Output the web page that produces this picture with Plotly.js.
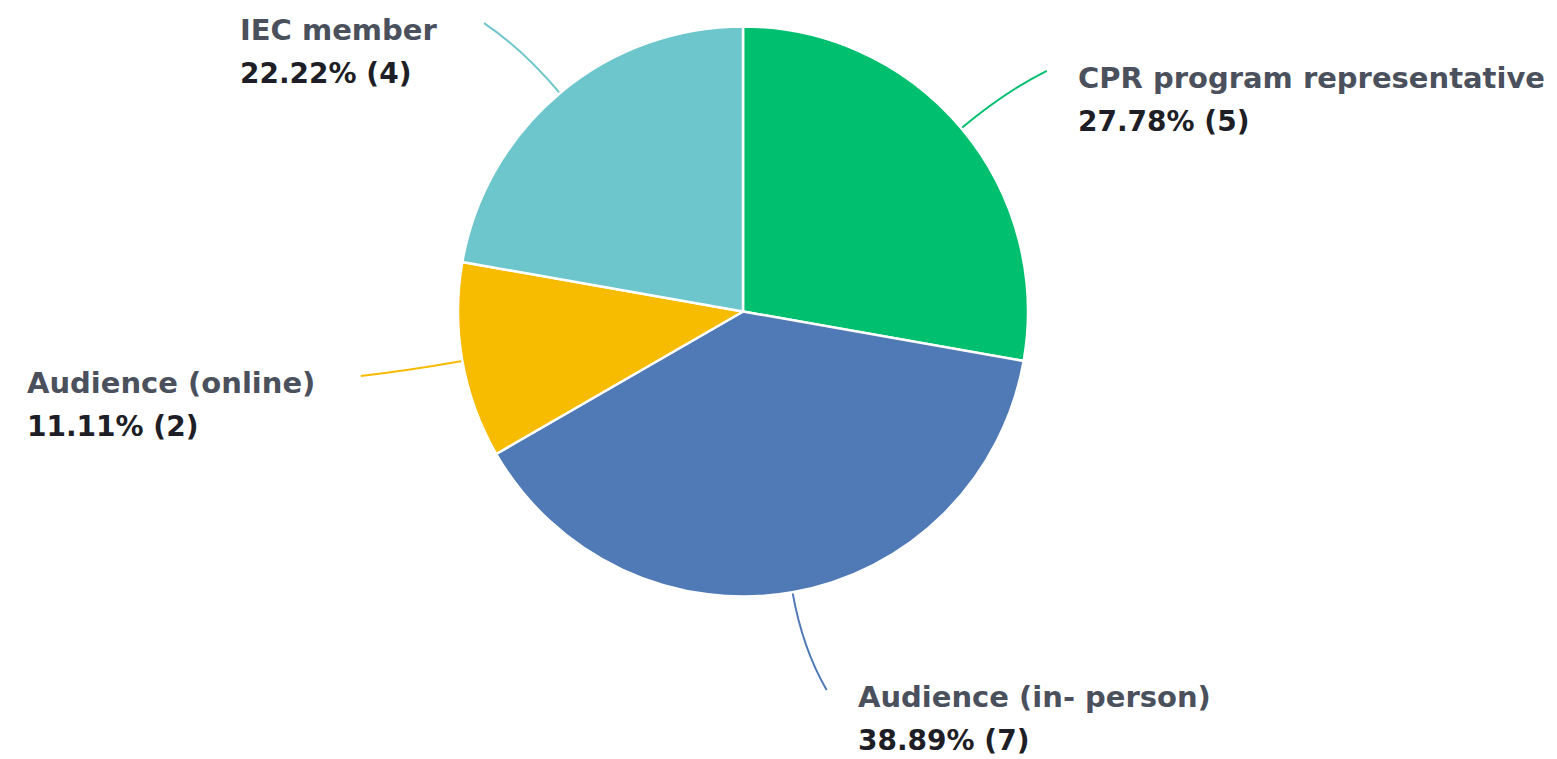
<!DOCTYPE html>
<html>
<head>
<meta charset="utf-8">
<script src="https://cdn.plot.ly/plotly-3.0.1.min.js"></script>
<style>
  html, body { margin: 0; padding: 0; background: #ffffff; }
  #chart { width: 1557px; height: 759px; }
</style>
</head>
<body>
<div id="chart"></div>
<script>
// ---- data ----
const categories = ["CPR program representative", "Audience (in- person)", "Audience (online)", "IEC member"];
const counts = [5, 7, 2, 4];
const percents = ["27.78%", "38.89%", "11.11%", "22.22%"];
const colors = ["#00BF6F", "#507AB6", "#F7BB00", "#6CC6CB"];

// ---- layout geometry (pixels) ----
const W = 1557, H = 759;
const CX = 743, CY = 311.5, R = 285;

const px = x => x / W;
const py = y => 1 - y / H;

const total = counts.reduce((a, b) => a + b, 0);
const shapes = [];
const annotations = [];
let cum = 0;
counts.forEach((v, i) => {
  const midDeg = (cum + v / 2) / total * 360;
  cum += v;
  const m = midDeg * Math.PI / 180;
  const s = Math.sin(m), c = Math.cos(m);
  // bend end toward horizontal
  let delta = 2.5 * Math.abs(c);
  let endDeg;
  if (s >= 0) endDeg = midDeg < 90 ? midDeg + delta : midDeg - delta;
  else endDeg = midDeg < 270 ? midDeg + delta : midDeg - delta;
  const e = endDeg * Math.PI / 180;
  const Sx = CX + R * s, Sy = CY - R * c;
  const Qx = CX + 1.2 * R * s, Qy = CY - 1.2 * R * c;
  const Ex = CX + 1.36 * R * Math.sin(e), Ey = CY - 1.36 * R * Math.cos(e);
  shapes.push({
    type: "path", xref: "paper", yref: "paper",
    path: `M ${px(Sx)} ${py(Sy)} Q ${px(Qx)} ${py(Qy)} ${px(Ex)} ${py(Ey)}`,
    line: { color: colors[i], width: 2 },
    layer: "below"
  });
  const right = s >= 0;
  const nameCenter = Ey + 10;
  annotations.push({
    xref: "paper", yref: "paper",
    x: px(right ? Ex + 29 : Ex - 44),
    y: py(nameCenter - 22),
    xanchor: right ? "left" : "right",
    yanchor: "top",
    align: "left",
    showarrow: false,
    font: { family: "DejaVu Sans", size: 33, color: "#4a4f5c" },
    text: `<span style="font-size:29px;font-weight:bold;color:#4b505d">${categories[i]}</span><br>` +
          `<span style="font-size:28px;font-weight:bold;color:#1e1e26">${percents[i]} (${counts[i]})</span>`
  });
});

const data = [{
  type: "pie",
  labels: categories,
  values: counts,
  sort: false,
  direction: "clockwise",
  rotation: 0,
  textinfo: "none",
  hoverinfo: "skip",
  marker: { colors: colors, line: { color: "#ffffff", width: 2.5 } },
  domain: { x: [px(CX - R), px(CX + R)], y: [py(CY + R), py(CY - R)] },
  showlegend: false
}];

const layout = {
  width: W, height: H,
  margin: { l: 0, r: 0, t: 0, b: 0 },
  paper_bgcolor: "#ffffff",
  plot_bgcolor: "#ffffff",
  showlegend: false,
  shapes: shapes,
  annotations: annotations
};

Plotly.newPlot("chart", data, layout, { displayModeBar: false, staticPlot: true });
</script>
</body>
</html>
